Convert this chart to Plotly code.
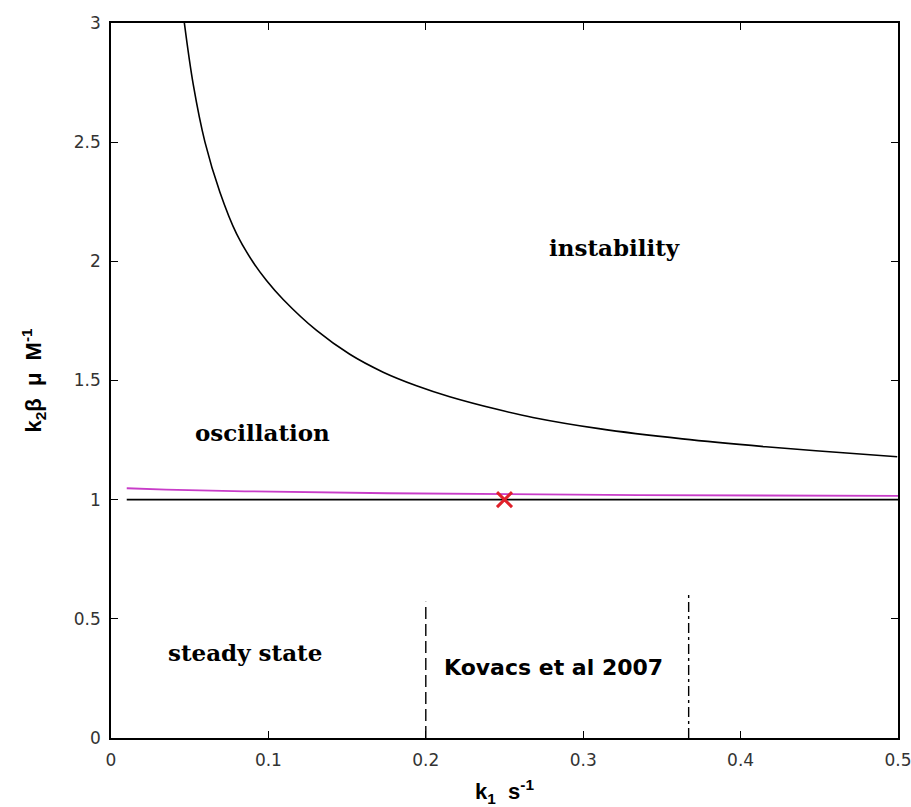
import plotly.graph_objects as go

# Instability boundary (upper curve)
k1_boundary = [0.0466, 0.0523, 0.0597, 0.0692, 0.0798, 0.0904, 0.0988, 0.1094, 0.1306,
               0.1517, 0.1729, 0.1941, 0.2152, 0.2459, 0.268, 0.31, 0.363, 0.416,
               0.4586, 0.4995]
k2b_boundary = [3.0, 2.74, 2.50, 2.29, 2.115, 1.995, 1.92, 1.84, 1.71,
                1.61, 1.535, 1.478, 1.432, 1.378, 1.345, 1.298, 1.255, 1.222,
                1.200, 1.180]

# Oscillation onset (magenta) and steady-state limit (black, k2*beta = 1)
k1_onset = [0.01, 0.035, 0.085, 0.176, 0.335, 0.5]
k2b_onset = [1.048, 1.042, 1.035, 1.027, 1.019, 1.016]
k1_steady = [0.01, 0.5]
k2b_steady = [1.0, 1.0]

# Operating point
k1_point = [0.25]
k2b_point = [1.0]

# Kovacs et al 2007 parameter range
kovacs_low_x = [0.2, 0.2]
kovacs_low_y = [0.0, 0.572]
kovacs_high_x = [0.367, 0.367]
kovacs_high_y = [0.0, 0.607]

x_ticks = [0, 0.1, 0.2, 0.3, 0.4, 0.5]
x_tick_text = ["0", "0.1", "0.2", "0.3", "0.4", "0.5"]
y_ticks = [0, 0.5, 1, 1.5, 2, 2.5, 3]
y_tick_text = ["0", "0.5", "1", "1.5", "2", "2.5", "3"]

fig = go.Figure()
fig.add_trace(go.Scatter(x=k1_boundary, y=k2b_boundary, mode="lines", line_shape="spline",
                         line=dict(color="black", width=1.6)))
fig.add_trace(go.Scatter(x=k1_steady, y=k2b_steady, mode="lines",
                         line=dict(color="black", width=1.6)))
fig.add_trace(go.Scatter(x=k1_onset, y=k2b_onset, mode="lines",
                         line=dict(color="#c83cc8", width=1.8)))
fig.add_trace(go.Scatter(x=kovacs_low_x, y=kovacs_low_y, mode="lines",
                         line=dict(color="black", width=1.4, dash="12px,5px")))
fig.add_trace(go.Scatter(x=kovacs_high_x, y=kovacs_high_y, mode="lines",
                         line=dict(color="black", width=1.4, dash="10px,4px,3px,4px")))
fig.add_trace(go.Scatter(x=k1_point, y=k2b_point, mode="markers",
                         marker=dict(symbol="x-thin", size=15, color="#e0202a",
                                     line=dict(color="#e0202a", width=3))))

serif = dict(family="DejaVu Serif", size=23, color="black")
fig.add_annotation(x=0.32, y=2.056, text="<b>instability</b>", showarrow=False, font=serif)
fig.add_annotation(x=0.096, y=1.28, text="<b>oscillation</b>", showarrow=False, font=serif)
fig.add_annotation(x=0.085, y=0.36, text="<b>steady state</b>", showarrow=False, font=serif)
fig.add_annotation(x=0.2106, y=0.294, text="<b>Kovacs et al 2007</b>", showarrow=False,
                   xanchor="left", font=dict(family="DejaVu Sans", size=22, color="black"))

axis_common = dict(
    showgrid=False, zeroline=False, showline=True, linecolor="black", linewidth=1.5,
    mirror="ticks", ticks="inside", ticklen=7, tickwidth=1.2, tickcolor="black",
    tickfont=dict(family="DejaVu Sans", size=17, color="#333333"),
    automargin=False, ticklabeloverflow="allow",
)
fig.update_xaxes(range=[-0.000001, 0.500001], tickvals=x_ticks, ticktext=x_tick_text,
                 ticklabelstandoff=6,
                 title=dict(text="<b>k<sub>1</sub>  s<sup>-1</sup></b>", standoff=18,
                            font=dict(family="Liberation Sans", size=22, color="black")),
                 **axis_common)
fig.update_yaxes(range=[-0.000001, 3.000001], tickvals=y_ticks, ticktext=y_tick_text,
                 ticklabelstandoff=5,
                 title=dict(text="<b>k<sub>2</sub>β  μ  M<sup>-1</sup></b>", standoff=26,
                            font=dict(family="Liberation Sans", size=22, color="black")),
                 **axis_common)

fig.update_layout(
    width=911, height=807, showlegend=False,
    margin=dict(l=111, r=13, t=23, b=69),
    paper_bgcolor="white", plot_bgcolor="white",
)
fig.write_html("out.html")
